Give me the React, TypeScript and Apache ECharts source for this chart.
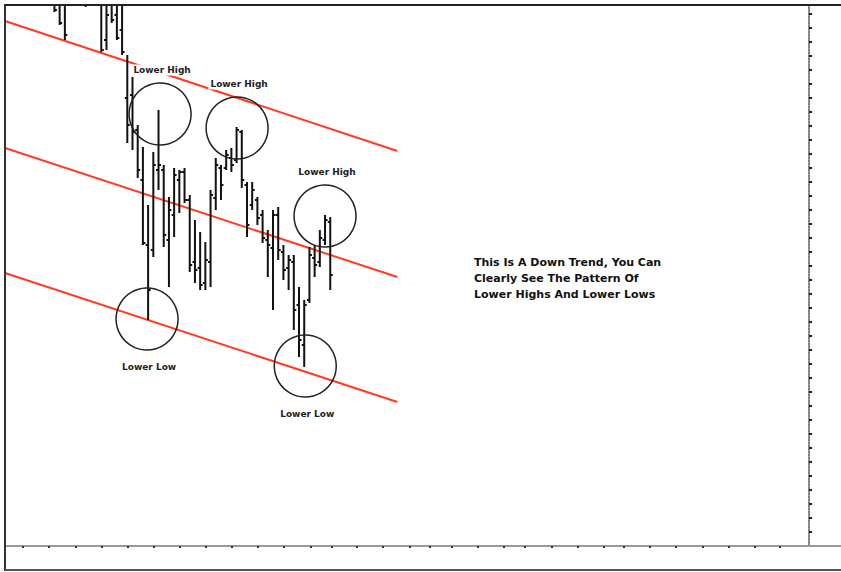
import React, { useEffect, useRef } from "react";
import * as echarts from "echarts";

// ---- Price bars (x = bar index, values in price units) ----
const barIndex = [10, 11, 12, 16, 19, 20, 21, 22, 23, 24, 25, 26, 27, 28, 29, 30, 31, 32, 33, 34, 35, 36, 37, 38, 39, 40, 41, 42, 43, 44, 45, 46, 47, 48, 49, 50, 51, 52, 53, 54, 55, 56, 57, 58, 59, 60, 61, 62, 63];
const barOpen = [551, 546, 541, 556, 556, 506, 541, 531, 516, 448, 451, 416, 366, 301, 296, 376, 376, 306, 331, 366, 374, 346, 284, 278, 263, 284, 348, 378, 378, 388, 386, 414, 361, 341, 346, 331, 306, 298, 331, 294, 278, 284, 241, 201, 246, 288, 284, 306, 324];
const barHigh = [566, 566, 566, 566, 576, 566, 566, 566, 561, 491, 469, 421, 399, 341, 394, 436, 381, 349, 378, 376, 378, 351, 326, 314, 304, 356, 388, 381, 396, 398, 419, 416, 364, 364, 349, 336, 316, 336, 339, 301, 291, 291, 259, 246, 299, 301, 316, 331, 329];
const barLow = [534, 521, 506, 539, 494, 496, 523, 506, 491, 403, 396, 368, 301, 226, 289, 356, 299, 259, 309, 333, 343, 274, 263, 256, 256, 259, 336, 346, 376, 374, 383, 358, 309, 336, 321, 303, 269, 236, 286, 266, 256, 216, 189, 179, 243, 269, 279, 301, 256];
const barClose = [536, 523, 511, 543, 496, 531, 526, 508, 494, 421, 414, 376, 303, 256, 381, 381, 311, 336, 371, 374, 346, 281, 276, 261, 286, 351, 381, 361, 391, 381, 416, 366, 321, 356, 328, 308, 301, 331, 296, 276, 286, 236, 206, 241, 291, 281, 308, 326, 271];

// ---- Trend channel lines ----
const trendX = [0.5, 75.9];
const trendUpper = [525, 395];
const trendMiddle = [398, 269];
const trendLower = [273, 144];

// ---- Swing annotations ----
const swingX = [30.3, 45.1, 62.0, 27.8, 58.2];
const swingY = [432, 418, 330, 227, 180];
const swingKind = [0, 0, 0, 1, 1]; // 0 = high, 1 = low
const swingLabel = ["Lower High", "Lower High", "Lower High", "Lower Low", "Lower Low"];

// ---- Axis ticks ----
const xTicks = [3.9, 9.0, 14.0, 19.0, 24.0, 29.0, 34.0, 39.0, 44.1, 49.0, 54.1, 59.2, 63.2, 68.1, 73.1, 78.2, 82.2, 86.3, 91.3, 96.3, 100.3, 105.5, 110.5, 115.5, 119.4, 124.4, 129.4, 134.5, 139.5, 144.5, 149.3];
const xMin = 0.5;
const xMax = 155;
const yMin = 0;
const yMax = 541;
const yInterval = 14;

const noteLines = [
  "This Is A Down Trend, You Can",
  "Clearly See The Pattern Of",
  "Lower Highs And Lower Lows",
];

export default function App() {
  const ref = useRef<HTMLDivElement>(null);

  useEffect(() => {
    document.body.style.margin = "0";
    if (!ref.current) return;
    const chart = echarts.init(ref.current, null, { renderer: "svg" });

    const red = "#ff3c22";
    const lineSeries = (name: string, vals: number[]) => ({
      type: "line",
      name,
      data: trendX.map((x, i) => [x, vals[i]]),
      symbol: "none",
      z: 2,
      silent: true,
      lineStyle: { color: red, width: 2 },
    });

    const option: any = {
      animation: false,
      backgroundColor: "#ffffff",
      grid: { left: 5, right: 32, top: 5, bottom: 26, containLabel: false },
      xAxis: {
        type: "value",
        min: xMin,
        max: xMax,
        axisLine: { show: true, lineStyle: { color: "#9a9a9a", width: 2 } },
        axisTick: {
          show: true,
          length: 2,
          inside: false,
          customValues: xTicks,
          lineStyle: { color: "#333", width: 2 },
        },
        axisLabel: { show: false },
        splitLine: { show: false },
      },
      yAxis: {
        type: "value",
        position: "right",
        min: yMin,
        max: yMax,
        interval: yInterval,
        axisLine: { show: true, lineStyle: { color: "#555", width: 1.5, type: [2, 1] } },
        axisTick: { show: true, length: 3, lineStyle: { color: "#222", width: 2 } },
        axisLabel: { show: false },
        splitLine: { show: false },
      },
      series: [
        lineSeries("upper", trendUpper),
        lineSeries("middle", trendMiddle),
        lineSeries("lower", trendLower),
        {
          type: "custom",
          name: "bars",
          z: 3,
          clip: true,
          silent: true,
          data: barIndex.map((x, i) => [x, barOpen[i], barHigh[i], barLow[i], barClose[i]]),
          encode: { x: 0, y: [1, 2, 3, 4] },
          renderItem: (params: any, api: any) => {
            const x = api.value(0);
            const o = api.coord([x, api.value(1)]);
            const h = api.coord([x, api.value(2)]);
            const l = api.coord([x, api.value(3)]);
            const c = api.coord([x, api.value(4)]);
            const style = { stroke: "#111", lineWidth: 2 };
            return {
              type: "group",
              children: [
                { type: "line", shape: { x1: h[0], y1: h[1], x2: l[0], y2: l[1] }, style },
                { type: "line", shape: { x1: o[0] - 2.5, y1: o[1], x2: o[0], y2: o[1] }, style },
                { type: "line", shape: { x1: c[0], y1: c[1], x2: c[0] + 2.5, y2: c[1] }, style },
              ],
            };
          },
        },
        {
          type: "custom",
          name: "swings",
          z: 4,
          silent: true,
          clip: false,
          data: swingX.map((x, i) => [x, swingY[i], swingKind[i]]),
          encode: { x: 0, y: 1 },
          renderItem: (params: any, api: any) => {
            const p = api.coord([api.value(0), api.value(1)]);
            const kind = api.value(2);
            return {
              type: "group",
              children: [
                {
                  type: "circle",
                  shape: { cx: p[0], cy: p[1], r: 31 },
                  style: { fill: "none", stroke: "#222", lineWidth: 1.5 },
                },
                {
                  type: "text",
                  z2: 10,
                  style: {
                    text: swingLabel[params.dataIndex],
                    x: p[0] + 2,
                    y: kind ? p[1] + 48 : p[1] - 44,
                    align: "center",
                    verticalAlign: "middle",
                    font: 'bold 9px "DejaVu Sans"',
                    fill: "#222",
                    backgroundColor: "#ffffff",
                    padding: [1, 2],
                  },
                },
              ],
            };
          },
        },
      ],
      graphic: [
        { type: "line", shape: { x1: 5, y1: 4, x2: 5, y2: 571 }, style: { stroke: "#333", lineWidth: 2 }, z: 10 },
        { type: "line", shape: { x1: 5, y1: 5, x2: 841, y2: 5 }, style: { stroke: "#222", lineWidth: 2 }, z: 10 },
        { type: "line", shape: { x1: 5, y1: 570, x2: 841, y2: 570 }, style: { stroke: "#555", lineWidth: 2 }, z: 10 },
        { type: "line", shape: { x1: 809, y1: 546, x2: 841, y2: 546 }, style: { stroke: "#9a9a9a", lineWidth: 2 }, z: 10 },
        {
          type: "text",
          x: 474,
          y: 254,
          z: 10,
          style: {
            text: noteLines.join("\n"),
            font: 'bold 11px "DejaVu Sans"',
            lineHeight: 16,
            fill: "#111",
            align: "left",
            verticalAlign: "top",
          },
        },
      ],
    };

    chart.setOption(option);
    return () => chart.dispose();
  }, []);

  return (
    <div
      ref={ref}
      style={{ position: "fixed", left: 0, top: 0, width: 841, height: 572, background: "#fff" }}
    />
  );
}
